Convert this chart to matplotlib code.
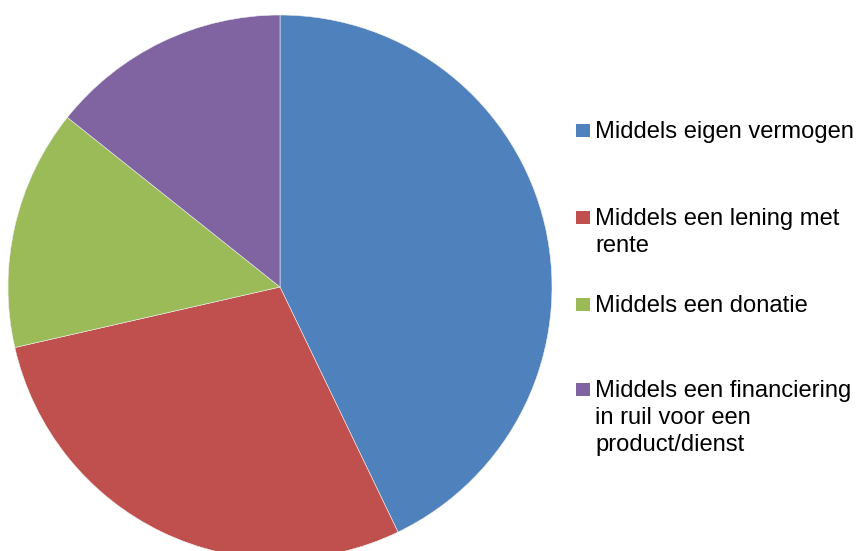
import matplotlib
matplotlib.use("Agg")
import matplotlib.pyplot as plt
from matplotlib.patches import Rectangle

labels = ["Middels eigen vermogen",
          "Middels een lening met\nrente",
          "Middels een donatie",
          "Middels een financiering\nin ruil voor een\nproduct/dienst"]
values = [3, 2, 1, 1]
colors = ["#4F81BD", "#C0504D", "#9BBB59", "#8064A2"]

W, H = 856, 551
fig = plt.figure(figsize=(W / 100, H / 100), dpi=100)
fig.patch.set_facecolor("white")

# pie axes: center (280, 287) px from top-left, radius 272 px
cx, cy, r = 280, 287, 272
ax = fig.add_axes([(cx - r) / W, (H - cy - r) / H, 2 * r / W, 2 * r / H])
ax.pie(values, colors=colors, startangle=90, counterclock=False,
       radius=1.0, wedgeprops=dict(linewidth=0.4, edgecolor="#f0f0f0"))
ax.set_xlim(-1, 1)
ax.set_ylim(-1, 1)
ax.set_aspect("equal")
ax.axis("off")

# legend drawn manually
font = "Liberation Sans"
fs = 17.1
first_baselines = [138, 225, 312, 397]
line_pitch = 27
for lab, col, yb in zip(labels, colors, first_baselines):
    fig.patches.append(Rectangle((576 / W, 1 - (yb - 1) / H), 14 / W, 13 / H,
                                 transform=fig.transFigure, facecolor=col,
                                 edgecolor="none"))
    for k, line in enumerate(lab.split("\n")):
        fig.text(595 / W, 1 - (yb + k * line_pitch) / H, line,
                 fontsize=fs, family=font, va="baseline", ha="left",
                 color="black")

fig.savefig("out.png", dpi=100, facecolor="white")
